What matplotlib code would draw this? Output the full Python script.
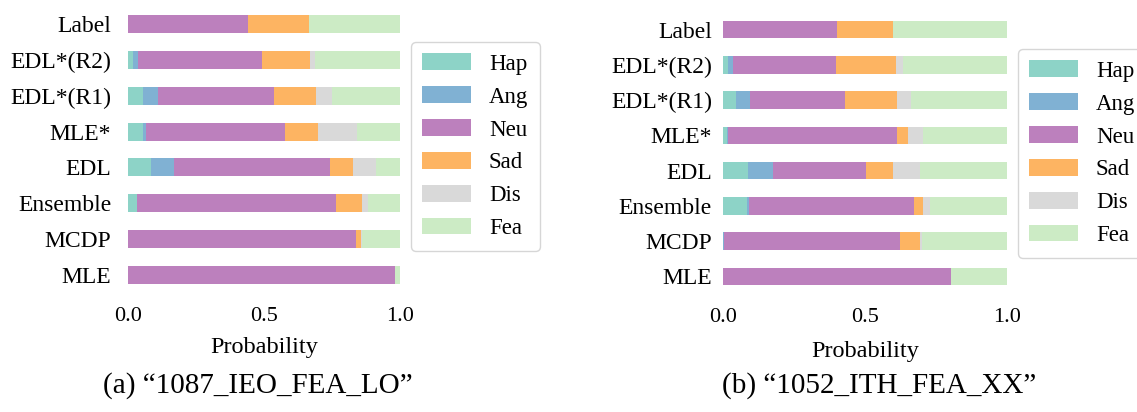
import numpy as np
import matplotlib
matplotlib.use("Agg")
import matplotlib.pyplot as plt

plt.rcParams['font.family'] = ['Liberation Serif', 'DejaVu Serif']

methods = ["Label", "EDL*(R2)", "EDL*(R1)", "MLE*", "EDL", "Ensemble", "MCDP", "MLE"]
emotions = ["Hap", "Ang", "Neu", "Sad", "Dis", "Fea"]
colors = ["#8dd3c7", "#80b1d3", "#bc80bd", "#fdb462", "#d9d9d9", "#ccebc5"]

# sample (a) 1087_IEO_FEA_LO : per-method probabilities [Hap, Ang, Neu, Sad, Dis, Fea]
probs_a = [
    [0.000, 0.000, 0.441, 0.224, 0.000, 0.335],
    [0.018, 0.019, 0.456, 0.176, 0.020, 0.311],
    [0.055, 0.055, 0.427, 0.154, 0.059, 0.250],
    [0.055, 0.011, 0.511, 0.122, 0.143, 0.158],
    [0.085, 0.084, 0.574, 0.084, 0.085, 0.088],
    [0.033, 0.000, 0.732, 0.095, 0.022, 0.118],
    [0.000, 0.000, 0.838, 0.019, 0.003, 0.140],
    [0.000, 0.000, 0.982, 0.000, 0.000, 0.018],
]
# sample (b) 1052_ITH_FEA_XX
probs_b = [
    [0.000, 0.000, 0.401, 0.198, 0.000, 0.401],
    [0.018, 0.017, 0.363, 0.211, 0.025, 0.366],
    [0.046, 0.049, 0.335, 0.183, 0.049, 0.338],
    [0.014, 0.004, 0.595, 0.038, 0.053, 0.296],
    [0.088, 0.088, 0.328, 0.095, 0.095, 0.306],
    [0.085, 0.007, 0.581, 0.031, 0.025, 0.271],
    [0.000, 0.004, 0.619, 0.071, 0.007, 0.299],
    [0.000, 0.000, 0.803, 0.000, 0.000, 0.197],
]
captions = ["(a) \u201c1087_IEO_FEA_LO\u201d", "(b) \u201c1052_ITH_FEA_XX\u201d"]
xticks = [0.0, 0.5, 1.0]
xticklabels = ["0.0", "0.5", "1.0"]

W, H = 1137, 412
fig = plt.figure(figsize=(W / 100, H / 100), dpi=100)

def fx(p):
    return p / W

def fy(p):
    return 1 - p / H

# (left px, right px, top px, bottom px) of axes data area
layouts = [(128, 400, 6, 293), (723, 1007, 12, 294)]
legend_pos = [(411, 42), (1018, 49)]
caption_pos = [(258, 386), (879, 386)]
labelpads = [8, 10]
ypads = [12, 8]

for k, (probs, cap) in enumerate(zip([probs_a, probs_b], captions)):
    l, r, t, b = layouts[k]
    ax = fig.add_axes([fx(l), fy(b), (r - l) / W, (b - t) / H])
    data = np.array(probs)
    y = np.arange(len(methods))
    left = np.zeros(len(methods))
    for j, emo in enumerate(emotions):
        ax.barh(y, data[:, j], left=left, height=0.5, color=colors[j], label=emo)
        left += data[:, j]
    ax.set_xlim(0, 1)
    ax.set_ylim(len(methods) - 0.5, -0.5)
    ax.set_yticks(y)
    ax.set_yticklabels(methods, fontsize=17)
    ax.set_xticks(xticks)
    ax.set_xticklabels(xticklabels, fontsize=16)
    ax.tick_params(axis='x', length=0, pad=10)
    ax.tick_params(axis='y', length=0, pad=ypads[k])
    for s in ax.spines.values():
        s.set_visible(False)
    ax.set_xlabel("Probability", fontsize=17.5, labelpad=labelpads[k])
    lx, ly = legend_pos[k]
    ax.legend(loc="upper left", bbox_to_anchor=(fx(lx), fy(ly)),
              bbox_transform=fig.transFigure, borderaxespad=0,
              fontsize=16.5, handlelength=2.1, handleheight=0.75,
              handletextpad=0.8, labelspacing=0.5, borderpad=0.5,
              frameon=True, fancybox=True, edgecolor="0.8")
    cx, cy = caption_pos[k]
    fig.text(fx(cx), fy(cy), cap, fontsize=21, ha="center", va="center")

fig.savefig("out.png", dpi=100)
